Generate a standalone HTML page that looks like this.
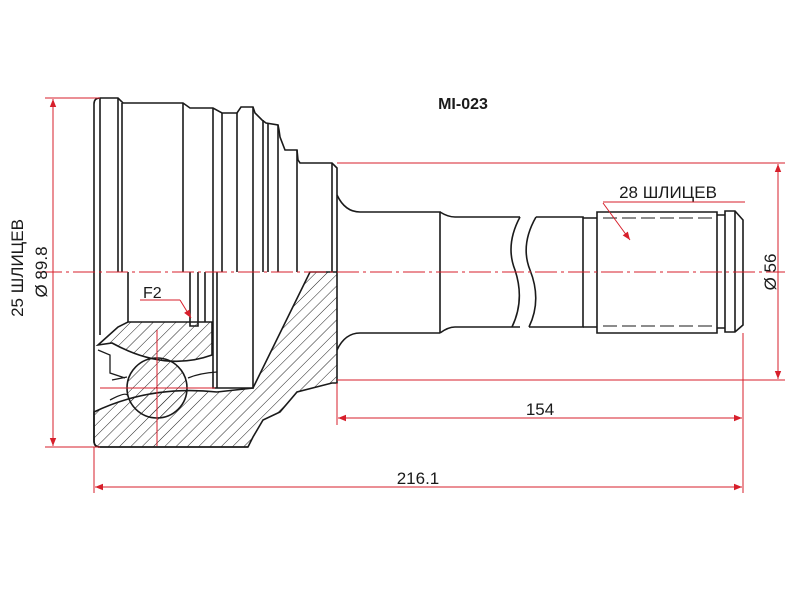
<!DOCTYPE html>
<html><head><meta charset="utf-8"><style>
html,body{margin:0;padding:0;background:#fff;}
svg{display:block;}
text{font-family:"Liberation Sans",sans-serif;}
</style></head><body>
<svg width="800" height="600" viewBox="0 0 800 600" xmlns="http://www.w3.org/2000/svg">
<defs>
<pattern id="h" width="8" height="8" patternUnits="userSpaceOnUse" patternTransform="rotate(45)">
<line x1="0" y1="0" x2="0" y2="8" stroke="#222" stroke-width="1"/>
</pattern>
<marker id="a" viewBox="0 0 10 10" refX="10" refY="5" markerWidth="10" markerHeight="8" orient="auto-start-reverse" markerUnits="userSpaceOnUse"><path d="M0,1 L10,5 L0,9 Z" fill="#d71f2b"/></marker>
</defs>

<g fill="none" stroke="#1a1a1a" stroke-width="1.6">
<path d="M94 272 L94 104 Q94 98 100 98 L118 98 L123 103 L183 103 L190 108 L213 108 L222 113 L237 113 L241 107 L253 107 L255 113 L262 120 L266 123 L278 125 L279 130 L280 137 L285 150 L297 150 L298 160 L300 163 L332 163 L337 168 L337 272"/>
<path d="M100 98 L100 272 M118 98 L118 272 M122 103 L122 272 M183 103 L183 272 M213 108 L213 272 M222 113 L222 272 M237 113 L237 272 M253 107 L253 272 M263 120 L263 272 M268 123 L268 272 M278 125 L278 272 M297 150 L297 272 M332 163 L332 272"/>
<path d="M337 195 Q345 212 360 212 L440 212 L440 333 M337 350 Q345 333 360 333 L440 333"/>
<path d="M440 212 Q448 217 455 217 L520 217 M440 333 Q448 327 455 327 L520 327"/>
<path d="M520 217 Q505 245 515 270 Q525 300 512 327"/>
<path d="M536 217 Q520 245 530 270 Q542 300 529 327"/>
<path d="M536 217 L583 217 L583 327 L529 327"/>
<path d="M583 218 L597 218 L597 327 L583 327 M597 212 L717 212 L717 333 L597 333 Z"/>
<path d="M717 215 L725 215 L725 328 L717 328 M725 211 L735 211 L743 220 L743 325 L735 332 L725 332 Z M735 211 L735 332"/>
<path d="M603 218 L715 218 M603 326 L715 326" stroke-dasharray="14 5" stroke-width="1"/>
<path d="M94 272 L94 441 Q94 447 100 447 L248 447"/>
<path d="M100 272 L100 335 M128 272 L128 322 M190 272 L190 326 L198 326 L198 272 M205 272 L205 322 M213 272 L213 388 L253 388 L253 272 M217 272 L217 388"/>
</g>

<path d="M310 272 L337 272 L337 383 L332 383 L297 392 L280 412 L263 420 L253 437 L248 447 L100 447 Q94 447 94 441 L94 412 Q150 385 217 392 L253 388 Z" fill="url(#h)" stroke="#1a1a1a" stroke-width="1.6"/>
<path d="M98 345 L118 327 L128 322 L212 322 L212 355 Q165 372 112 343 Z" fill="url(#h)" stroke="#1a1a1a" stroke-width="1.6"/>
<circle cx="157" cy="388" r="30" fill="url(#h)" stroke="#1a1a1a" stroke-width="1.6"/>
<path d="M98 350 L110 355 L110 373 L125 378 M188 378 Q200 373 217 372 M112 380 L127 377 M110 400 Q125 392 127 395" fill="none" stroke="#1a1a1a" stroke-width="1.3"/>

<g stroke="#d71f2b" stroke-width="1" fill="none">
<path d="M40 272 L785 272" stroke-dasharray="22 4 3 4"/>
<line x1="157" y1="330" x2="157" y2="446"/>
<line x1="100" y1="388" x2="215" y2="388"/>
<line x1="45" y1="98" x2="100" y2="98"/>
<line x1="45" y1="447" x2="100" y2="447"/>
<line x1="53" y1="99" x2="53" y2="446" marker-start="url(#a)" marker-end="url(#a)"/>
<line x1="337" y1="163" x2="785" y2="163"/>
<line x1="337" y1="380" x2="785" y2="380"/>
<line x1="778" y1="164" x2="778" y2="379" marker-start="url(#a)" marker-end="url(#a)"/>
<line x1="94" y1="447" x2="94" y2="493"/>
<line x1="743" y1="333" x2="743" y2="493"/>
<line x1="337" y1="383" x2="337" y2="425"/>
<line x1="338" y1="418" x2="742" y2="418" marker-start="url(#a)" marker-end="url(#a)"/>
<line x1="95" y1="487" x2="742" y2="487" marker-start="url(#a)" marker-end="url(#a)"/>
<line x1="603" y1="202" x2="745" y2="202"/>
<line x1="603" y1="203" x2="630" y2="240" marker-end="url(#a)"/>
<line x1="140" y1="300" x2="180" y2="300"/>
<line x1="180" y1="300" x2="191" y2="318" marker-end="url(#a)"/>
</g>

<g fill="#1a1a1a" font-size="17">
<text x="463" y="109" text-anchor="middle" font-weight="bold" font-size="16">MI-023</text>
<text x="668" y="198" text-anchor="middle">28 ШЛИЦЕВ</text>
<text x="143" y="298" font-size="16">F2</text>
<text x="540" y="415" text-anchor="middle">154</text>
<text x="418" y="484" text-anchor="middle">216.1</text>
<text transform="translate(776,272) rotate(-90)" text-anchor="middle">Ø 56</text>
<text transform="translate(23,268) rotate(-90)" text-anchor="middle">25 ШЛИЦЕВ</text>
<text transform="translate(47,272) rotate(-90)" text-anchor="middle">Ø 89.8</text>
</g>
</svg>
</body></html>
